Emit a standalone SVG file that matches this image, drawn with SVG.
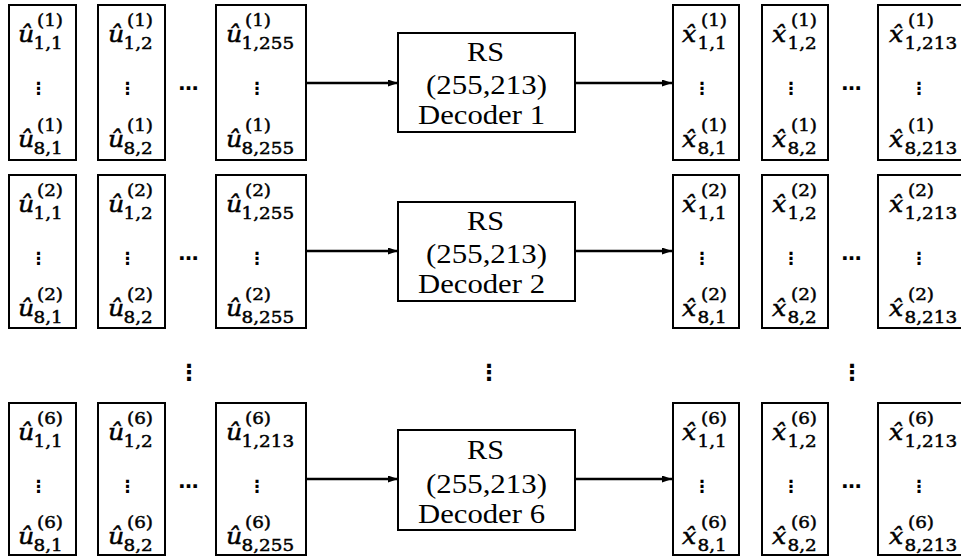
<svg xmlns="http://www.w3.org/2000/svg" width="961" height="556" viewBox="0 0 961 556">
  <defs>
    <style>
      .bx { fill: #fff; stroke: #000; stroke-width: 2; }
      .m { font-family: "DejaVu Serif", serif; font-size: 16px; fill: #000; stroke: #000; stroke-width: 0.45; }
      .v { font-style: italic; font-size: 22px; }
      .el { font-family: "DejaVu Sans", sans-serif; font-size: 20px; font-weight: bold; text-anchor: middle; }
      .vd { font-family: "DejaVu Sans", sans-serif; font-size: 17px; font-weight: bold; text-anchor: middle; }
      .vg { font-family: "DejaVu Sans", sans-serif; font-size: 22px; font-weight: bold; text-anchor: middle; }
      .dec { font-family: "Liberation Serif", serif; font-size: 28px; }
      .ln { stroke: #000; stroke-width: 2.6; fill: none; }
    </style>
    <marker id="ah" markerUnits="userSpaceOnUse" markerWidth="11" markerHeight="8" refX="10" refY="3.5" orient="auto">
      <path d="M0,0 L10,3.5 L0,7 z" fill="#000"/>
    </marker>
  </defs>
  <rect width="961" height="556" fill="#fff"/>

  <!-- row 1 -->
  <g id="row1" transform="translate(0,5)">
    <g id="u1-c1">
      <rect class="bx" x="9" y="0" width="67" height="155"/>
      <text class="m" transform="translate(18,37) scale(1.15,1)"><tspan class="v">û</tspan><tspan x="16.5" y="-16">(1)</tspan><tspan x="13.5" y="7">1,1</tspan></text>
      <text class="vd" x="38.5" y="88.8">⋮</text>
      <text class="m" transform="translate(18,142) scale(1.15,1)"><tspan class="v">û</tspan><tspan x="16.5" y="-16">(1)</tspan><tspan x="13.5" y="7">8,1</tspan></text>
    </g>
    <g id="u1-c2">
      <rect class="bx" x="98" y="0" width="67" height="155"/>
      <text class="m" transform="translate(108,37) scale(1.15,1)"><tspan class="v">û</tspan><tspan x="16.5" y="-16">(1)</tspan><tspan x="13.5" y="7">1,2</tspan></text>
      <text class="vd" x="127.5" y="88.8">⋮</text>
      <text class="m" transform="translate(108,142) scale(1.15,1)"><tspan class="v">û</tspan><tspan x="16.5" y="-16">(1)</tspan><tspan x="13.5" y="7">8,2</tspan></text>
    </g>
    <text class="el" x="188.5" y="85">…</text>
    <g id="u1-c255">
      <rect class="bx" x="216" y="0" width="90" height="155"/>
      <text class="m" transform="translate(226,37) scale(1.15,1)"><tspan class="v">û</tspan><tspan x="16.5" y="-16">(1)</tspan><tspan x="13.5" y="7">1,255</tspan></text>
      <text class="vd" x="257" y="88.8">⋮</text>
      <text class="m" transform="translate(226,142) scale(1.15,1)"><tspan class="v">û</tspan><tspan x="16.5" y="-16">(1)</tspan><tspan x="13.5" y="7">8,255</tspan></text>
    </g>
    <g id="decoder1">
      <rect class="bx" x="398" y="28" width="177" height="99"/>
      <text class="dec" x="467" y="56" textLength="37" lengthAdjust="spacingAndGlyphs">RS</text>
      <text class="dec" x="426" y="89" textLength="121" lengthAdjust="spacingAndGlyphs">(255,213)</text>
      <text class="dec" x="418" y="119" textLength="127" lengthAdjust="spacingAndGlyphs">Decoder 1</text>
    </g>
    <g id="x1-c1">
      <rect class="bx" x="673" y="0" width="66" height="155"/>
      <text class="m" transform="translate(682,37) scale(1.15,1)"><tspan class="v">x̂</tspan><tspan x="16.5" y="-16">(1)</tspan><tspan x="13.5" y="7">1,1</tspan></text>
      <text class="vd" x="702" y="88.8">⋮</text>
      <text class="m" transform="translate(682,142) scale(1.15,1)"><tspan class="v">x̂</tspan><tspan x="16.5" y="-16">(1)</tspan><tspan x="13.5" y="7">8,1</tspan></text>
    </g>
    <g id="x1-c2">
      <rect class="bx" x="762" y="0" width="66" height="155"/>
      <text class="m" transform="translate(772,37) scale(1.15,1)"><tspan class="v">x̂</tspan><tspan x="16.5" y="-16">(1)</tspan><tspan x="13.5" y="7">1,2</tspan></text>
      <text class="vd" x="791" y="88.8">⋮</text>
      <text class="m" transform="translate(772,142) scale(1.15,1)"><tspan class="v">x̂</tspan><tspan x="16.5" y="-16">(1)</tspan><tspan x="13.5" y="7">8,2</tspan></text>
    </g>
    <text class="el" x="851.5" y="85">…</text>
    <g id="x1-c213">
      <rect class="bx" x="878" y="0" width="90" height="155"/>
      <text class="m" transform="translate(889,37) scale(1.15,1)"><tspan class="v">x̂</tspan><tspan x="16.5" y="-16">(1)</tspan><tspan x="13.5" y="7">1,213</tspan></text>
      <text class="vd" x="919" y="88.8">⋮</text>
      <text class="m" transform="translate(889,142) scale(1.15,1)"><tspan class="v">x̂</tspan><tspan x="16.5" y="-16">(1)</tspan><tspan x="13.5" y="7">8,213</tspan></text>
    </g>
  </g>

  <!-- row 2 -->
  <g id="row2" transform="translate(0,175)">
    <g id="u2-c1">
      <rect class="bx" x="9" y="0" width="67" height="153"/>
      <text class="m" transform="translate(18,37) scale(1.15,1)"><tspan class="v">û</tspan><tspan x="16.5" y="-16">(2)</tspan><tspan x="13.5" y="7">1,1</tspan></text>
      <text class="vd" x="38.5" y="88.8">⋮</text>
      <text class="m" transform="translate(18,141) scale(1.15,1)"><tspan class="v">û</tspan><tspan x="16.5" y="-16">(2)</tspan><tspan x="13.5" y="7">8,1</tspan></text>
    </g>
    <g id="u2-c2">
      <rect class="bx" x="98" y="0" width="67" height="153"/>
      <text class="m" transform="translate(108,37) scale(1.15,1)"><tspan class="v">û</tspan><tspan x="16.5" y="-16">(2)</tspan><tspan x="13.5" y="7">1,2</tspan></text>
      <text class="vd" x="127.5" y="88.8">⋮</text>
      <text class="m" transform="translate(108,141) scale(1.15,1)"><tspan class="v">û</tspan><tspan x="16.5" y="-16">(2)</tspan><tspan x="13.5" y="7">8,2</tspan></text>
    </g>
    <text class="el" x="188.5" y="85">…</text>
    <g id="u2-c255">
      <rect class="bx" x="216" y="0" width="90" height="153"/>
      <text class="m" transform="translate(226,37) scale(1.15,1)"><tspan class="v">û</tspan><tspan x="16.5" y="-16">(2)</tspan><tspan x="13.5" y="7">1,255</tspan></text>
      <text class="vd" x="257" y="88.8">⋮</text>
      <text class="m" transform="translate(226,141) scale(1.15,1)"><tspan class="v">û</tspan><tspan x="16.5" y="-16">(2)</tspan><tspan x="13.5" y="7">8,255</tspan></text>
    </g>
    <g id="decoder2">
      <rect class="bx" x="398" y="27" width="177" height="99"/>
      <text class="dec" x="467" y="55" textLength="37" lengthAdjust="spacingAndGlyphs">RS</text>
      <text class="dec" x="426" y="88" textLength="121" lengthAdjust="spacingAndGlyphs">(255,213)</text>
      <text class="dec" x="418" y="118" textLength="127" lengthAdjust="spacingAndGlyphs">Decoder 2</text>
    </g>
    <g id="x2-c1">
      <rect class="bx" x="673" y="0" width="66" height="153"/>
      <text class="m" transform="translate(682,37) scale(1.15,1)"><tspan class="v">x̂</tspan><tspan x="16.5" y="-16">(2)</tspan><tspan x="13.5" y="7">1,1</tspan></text>
      <text class="vd" x="702" y="88.8">⋮</text>
      <text class="m" transform="translate(682,141) scale(1.15,1)"><tspan class="v">x̂</tspan><tspan x="16.5" y="-16">(2)</tspan><tspan x="13.5" y="7">8,1</tspan></text>
    </g>
    <g id="x2-c2">
      <rect class="bx" x="762" y="0" width="66" height="153"/>
      <text class="m" transform="translate(772,37) scale(1.15,1)"><tspan class="v">x̂</tspan><tspan x="16.5" y="-16">(2)</tspan><tspan x="13.5" y="7">1,2</tspan></text>
      <text class="vd" x="791" y="88.8">⋮</text>
      <text class="m" transform="translate(772,141) scale(1.15,1)"><tspan class="v">x̂</tspan><tspan x="16.5" y="-16">(2)</tspan><tspan x="13.5" y="7">8,2</tspan></text>
    </g>
    <text class="el" x="851.5" y="85">…</text>
    <g id="x2-c213">
      <rect class="bx" x="878" y="0" width="90" height="153"/>
      <text class="m" transform="translate(889,37) scale(1.15,1)"><tspan class="v">x̂</tspan><tspan x="16.5" y="-16">(2)</tspan><tspan x="13.5" y="7">1,213</tspan></text>
      <text class="vd" x="919" y="88.8">⋮</text>
      <text class="m" transform="translate(889,141) scale(1.15,1)"><tspan class="v">x̂</tspan><tspan x="16.5" y="-16">(2)</tspan><tspan x="13.5" y="7">8,213</tspan></text>
    </g>
  </g>

  <!-- elided decoders 3 to 5 -->
  <g id="row-gap">
    <text class="vg" x="189" y="380">⋮</text>
    <text class="vg" x="489" y="380">⋮</text>
    <text class="vg" x="852" y="380">⋮</text>
  </g>

  <!-- row 6 -->
  <g id="row6" transform="translate(0,403)">
    <g id="u6-c1">
      <rect class="bx" x="9" y="0" width="67" height="152"/>
      <text class="m" transform="translate(18,37) scale(1.15,1)"><tspan class="v">û</tspan><tspan x="16.5" y="-16">(6)</tspan><tspan x="13.5" y="7">1,1</tspan></text>
      <text class="vd" x="38.5" y="88.8">⋮</text>
      <text class="m" transform="translate(18,141) scale(1.15,1)"><tspan class="v">û</tspan><tspan x="16.5" y="-16">(6)</tspan><tspan x="13.5" y="7">8,1</tspan></text>
    </g>
    <g id="u6-c2">
      <rect class="bx" x="98" y="0" width="67" height="152"/>
      <text class="m" transform="translate(108,37) scale(1.15,1)"><tspan class="v">û</tspan><tspan x="16.5" y="-16">(6)</tspan><tspan x="13.5" y="7">1,2</tspan></text>
      <text class="vd" x="127.5" y="88.8">⋮</text>
      <text class="m" transform="translate(108,141) scale(1.15,1)"><tspan class="v">û</tspan><tspan x="16.5" y="-16">(6)</tspan><tspan x="13.5" y="7">8,2</tspan></text>
    </g>
    <text class="el" x="188.5" y="85">…</text>
    <g id="u6-c255">
      <rect class="bx" x="216" y="0" width="90" height="152"/>
      <text class="m" transform="translate(226,37) scale(1.15,1)"><tspan class="v">û</tspan><tspan x="16.5" y="-16">(6)</tspan><tspan x="13.5" y="7">1,213</tspan></text>
      <text class="vd" x="257" y="88.8">⋮</text>
      <text class="m" transform="translate(226,141) scale(1.15,1)"><tspan class="v">û</tspan><tspan x="16.5" y="-16">(6)</tspan><tspan x="13.5" y="7">8,255</tspan></text>
    </g>
    <g id="decoder6">
      <rect class="bx" x="398" y="27" width="177" height="100"/>
      <text class="dec" x="467" y="56" textLength="37" lengthAdjust="spacingAndGlyphs">RS</text>
      <text class="dec" x="426" y="90" textLength="121" lengthAdjust="spacingAndGlyphs">(255,213)</text>
      <text class="dec" x="418" y="120" textLength="127" lengthAdjust="spacingAndGlyphs">Decoder 6</text>
    </g>
    <g id="x6-c1">
      <rect class="bx" x="673" y="0" width="66" height="152"/>
      <text class="m" transform="translate(682,37) scale(1.15,1)"><tspan class="v">x̂</tspan><tspan x="16.5" y="-16">(6)</tspan><tspan x="13.5" y="7">1,1</tspan></text>
      <text class="vd" x="702" y="88.8">⋮</text>
      <text class="m" transform="translate(682,141) scale(1.15,1)"><tspan class="v">x̂</tspan><tspan x="16.5" y="-16">(6)</tspan><tspan x="13.5" y="7">8,1</tspan></text>
    </g>
    <g id="x6-c2">
      <rect class="bx" x="762" y="0" width="66" height="152"/>
      <text class="m" transform="translate(772,37) scale(1.15,1)"><tspan class="v">x̂</tspan><tspan x="16.5" y="-16">(6)</tspan><tspan x="13.5" y="7">1,2</tspan></text>
      <text class="vd" x="791" y="88.8">⋮</text>
      <text class="m" transform="translate(772,141) scale(1.15,1)"><tspan class="v">x̂</tspan><tspan x="16.5" y="-16">(6)</tspan><tspan x="13.5" y="7">8,2</tspan></text>
    </g>
    <text class="el" x="851.5" y="85">…</text>
    <g id="x6-c213">
      <rect class="bx" x="878" y="0" width="90" height="152"/>
      <text class="m" transform="translate(889,37) scale(1.15,1)"><tspan class="v">x̂</tspan><tspan x="16.5" y="-16">(6)</tspan><tspan x="13.5" y="7">1,213</tspan></text>
      <text class="vd" x="919" y="88.8">⋮</text>
      <text class="m" transform="translate(889,141) scale(1.15,1)"><tspan class="v">x̂</tspan><tspan x="16.5" y="-16">(6)</tspan><tspan x="13.5" y="7">8,213</tspan></text>
    </g>
  </g>

  <!-- connectors: symbol block to decoder, decoder to output block -->
  <g id="connectors">
    <line class="ln" x1="307" y1="83" x2="398" y2="83" marker-end="url(#ah)"/>
    <line class="ln" x1="575" y1="83" x2="672" y2="83" marker-end="url(#ah)"/>
    <line class="ln" x1="307" y1="251" x2="398" y2="251" marker-end="url(#ah)"/>
    <line class="ln" x1="575" y1="251" x2="672" y2="251" marker-end="url(#ah)"/>
    <line class="ln" x1="307" y1="479" x2="398" y2="479" marker-end="url(#ah)"/>
    <line class="ln" x1="575" y1="479" x2="672" y2="479" marker-end="url(#ah)"/>
  </g>
</svg>
